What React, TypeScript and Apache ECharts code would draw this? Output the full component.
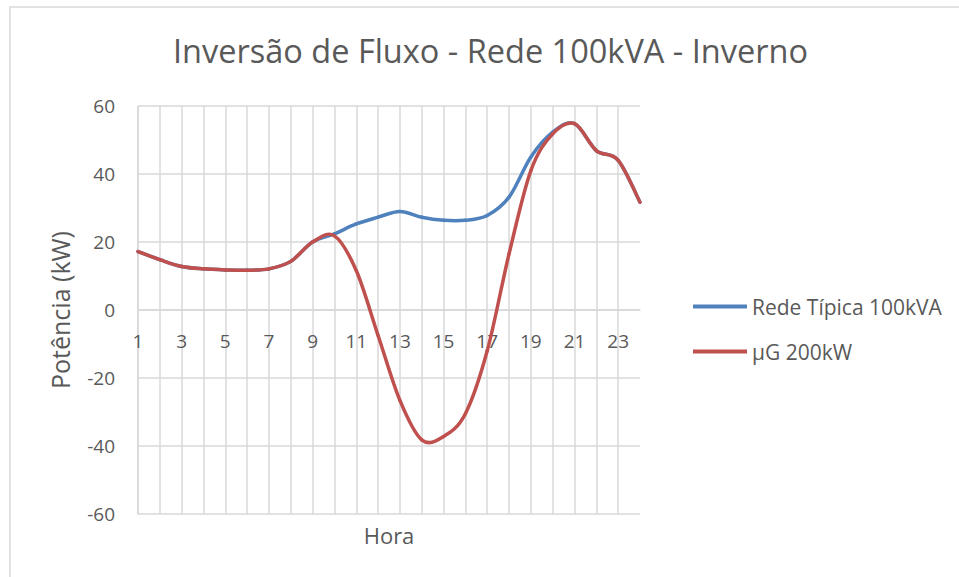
import React, { useEffect, useRef } from "react";
import * as echarts from "echarts";

const hours = ["1","2","3","4","5","6","7","8","9","10","11","12","13","14","15","16","17","18","19","20","21","22","23","24"];
const redeTipica = [17.2, 14.8, 12.8, 12.1, 11.8, 11.7, 12.1, 14.3, 20.0, 22.4, 25.3, 27.3, 29.0, 27.3, 26.4, 26.4, 27.8, 33.2, 45.0, 52.3, 54.8, 46.9, 44.0, 31.7];
const microG = [17.2, 14.8, 12.8, 12.1, 11.8, 11.7, 12.1, 14.3, 20.0, 21.8, 11.6, -7.5, -26.6, -38.2, -37.2, -30.5, -12.0, 16.5, 41.0, 51.8, 54.8, 46.9, 44.0, 31.7];
const seriesNames = ["Rede Típica 100kVA", "µG 200kW"];
const seriesColors = ["#4f81bd", "#c0504d"];
const titleText = "Inversão de Fluxo - Rede 100kVA - Inverno";

const FONT = "'Open Sans', sans-serif";
const TXT = "#595959";
const GRID = "#d9d9d9";

// Excel-like smoothed line: one cubic Bezier segment per data point (Catmull-Rom tangents)
function smoothSeries(name: string, values: number[], color: string) {
  const n = values.length;
  return {
    name,
    type: "custom",
    data: values.map((v, i) => [i, v]),
    encode: { x: 0, y: 1 },
    itemStyle: { color },
    z: 3,
    renderItem: (params: any, api: any) => {
      const i = params.dataIndex;
      if (i >= n - 1) return null;
      const P = (k: number) => {
        const c = Math.max(0, Math.min(n - 1, k));
        return api.coord([c, values[c]]);
      };
      const p0 = P(i - 1), p1 = P(i), p2 = P(i + 1), p3 = P(i + 2);
      const t = 1 / 6;
      return {
        type: "bezierCurve",
        shape: {
          x1: p1[0], y1: p1[1],
          x2: p2[0], y2: p2[1],
          cpx1: p1[0] + (p2[0] - p0[0]) * t,
          cpy1: p1[1] + (p2[1] - p0[1]) * t,
          cpx2: p2[0] - (p3[0] - p1[0]) * t,
          cpy2: p2[1] - (p3[1] - p1[1]) * t,
        },
        style: { stroke: color, lineWidth: 3.5, fill: null, lineCap: "round" },
      };
    },
  };
}

export default function App() {
  const ref = useRef<HTMLDivElement>(null);
  useEffect(() => {
    if (!ref.current) return;
    const chart = echarts.init(ref.current, null, { renderer: "svg" });
    chart.setOption({
      animation: false,
      backgroundColor: "#ffffff",
      textStyle: { fontFamily: FONT, color: TXT },
      graphic: [
        {
          type: "rect",
          shape: { x: 10, y: 7, width: 1200, height: 1200 },
          style: { fill: "none", stroke: GRID, lineWidth: 1.5 },
          silent: true,
        },
      ],
      title: {
        text: titleText,
        left: 173,
        top: 34,
        padding: 0,
        textStyle: { fontFamily: FONT, fontSize: 32.5, fontWeight: "normal", color: TXT },
      },
      legend: {
        orient: "vertical",
        left: 693,
        top: 296,
        padding: 0,
        itemWidth: 54,
        itemHeight: 4,
        itemGap: 24,
        icon: "rect",
        textStyle: { fontFamily: FONT, fontSize: 21, color: TXT },
        data: seriesNames,
      },
      grid: { left: 138, right: 319, top: 106, bottom: 63, containLabel: false, outerBoundsMode: "none" },
      xAxis: {
        type: "category",
        data: hours,
        boundaryGap: false,
        position: "bottom",
        offset: -204,
        name: "Hora",
        nameLocation: "middle",
        nameGap: 214,
        nameTextStyle: { fontFamily: FONT, fontSize: 22, color: TXT },
        axisLine: { show: true, onZero: false, lineStyle: { color: GRID, width: 1.5 } },
        axisTick: { show: false },
        axisLabel: { interval: 1, margin: 21, fontFamily: FONT, fontSize: 19, color: TXT },
        splitLine: {
          show: true,
          interval: (index: number) => index < hours.length - 1,
          lineStyle: { color: GRID, width: 1.5 },
        },
      },
      yAxis: {
        type: "value",
        min: -60,
        max: 60,
        interval: 20,
        name: "Potência (kW)",
        nameLocation: "middle",
        nameGap: 66,
        nameTextStyle: { fontFamily: FONT, fontSize: 25, color: TXT },
        axisLine: { show: true, lineStyle: { color: GRID, width: 1.5 } },
        axisTick: { show: false },
        axisLabel: { margin: 23, fontFamily: FONT, fontSize: 19, color: TXT },
        splitLine: { show: true, lineStyle: { color: GRID, width: 1.5 } },
      },
      series: [
        smoothSeries(seriesNames[0], redeTipica, seriesColors[0]),
        smoothSeries(seriesNames[1], microG, seriesColors[1]),
      ],
    });
    return () => chart.dispose();
  }, []);
  return (
    <div
      ref={ref}
      style={{ position: "absolute", left: 0, top: 0, width: 959, height: 577 }}
    />
  );
}
